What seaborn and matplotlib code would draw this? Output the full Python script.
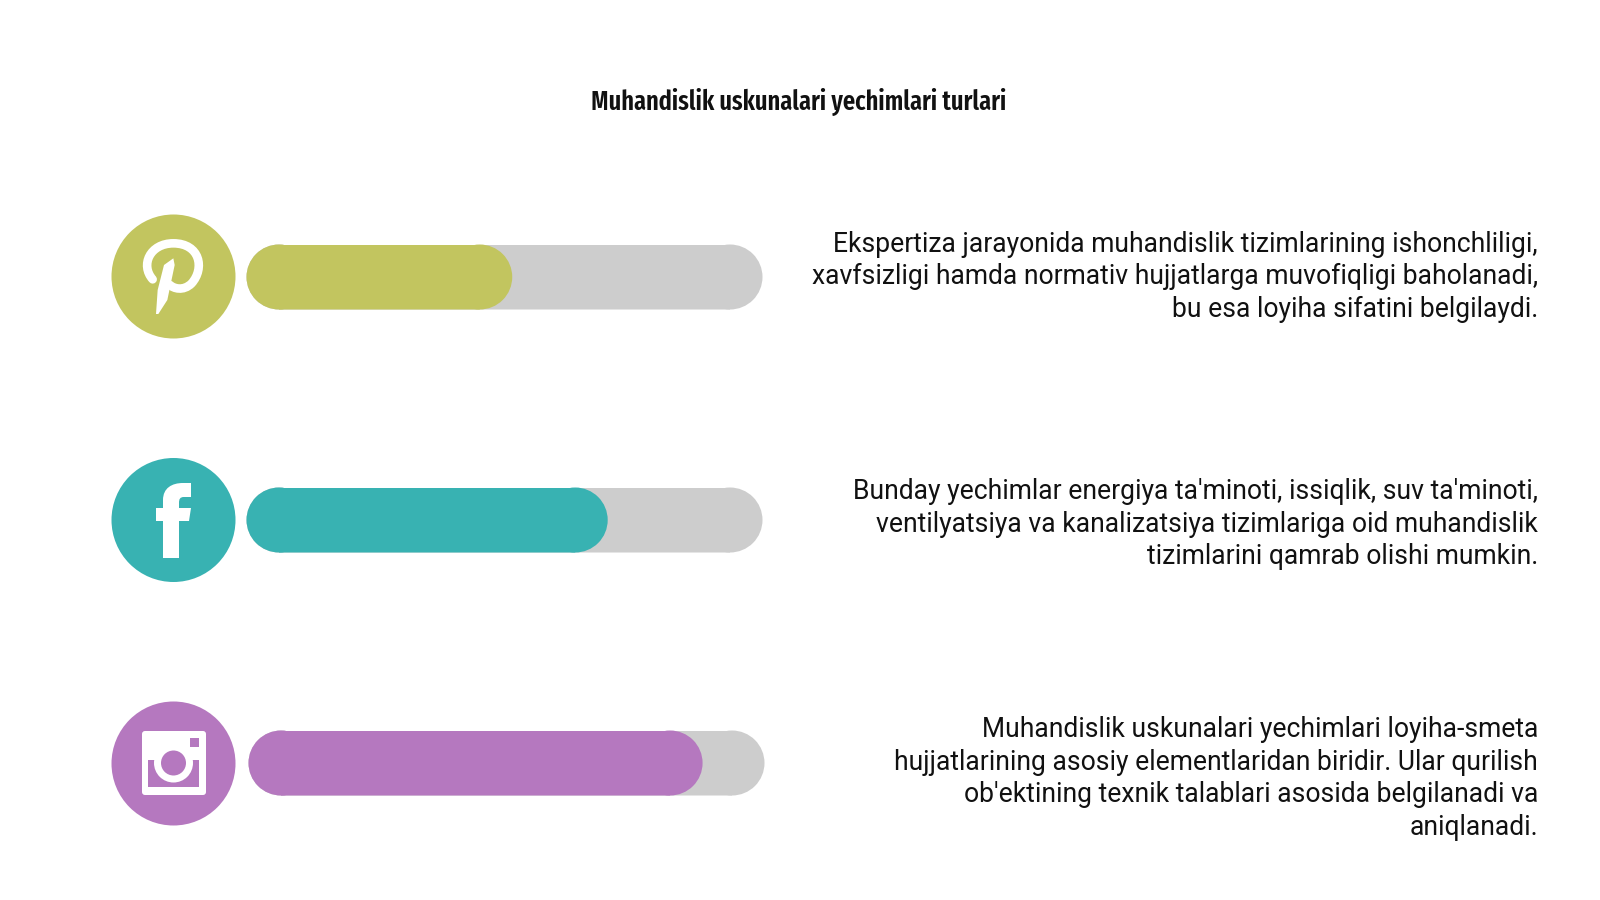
import numpy as np
import pandas as pd
import seaborn as sns
import matplotlib.pyplot as plt
from matplotlib.patches import Circle, FancyBboxPatch, PathPatch, Rectangle
from matplotlib.path import Path
from matplotlib.transforms import IdentityTransform

# DATA
title = 'Muhandislik uskunalari yechimlari turlari'
values = [51.5, 70, 88]
track_max = [100, 100, 100]
colors = ['#c2c55f', '#38b2b2', '#b578bf']
track_color = '#cdcdcd'
descriptions = [
    "Ekspertiza jarayonida muhandislik tizimlarining ishonchliligi,\n"
    "xavfsizligi hamda normativ hujjatlarga muvofiqligi baholanadi,\n"
    "bu esa loyiha sifatini belgilaydi.",
    "Bunday yechimlar energiya ta'minoti, issiqlik, suv ta'minoti,\n"
    "ventilyatsiya va kanalizatsiya tizimlariga oid muhandislik\n"
    "tizimlarini qamrab olishi mumkin.",
    "Muhandislik uskunalari yechimlari loyiha-smeta\n"
    "hujjatlarining asosiy elementlaridan biridir. Ular qurilish\n"
    "ob'ektining texnik talablari asosida belgilanadi va\n"
    "aniqlanadi.",
]

W, H = 1600, 900
sns.set_theme(style='white')
plt.rcParams['font.family'] = ['Roboto', 'DejaVu Sans']

fig = plt.figure(figsize=(16, 9), dpi=100, facecolor='white')

# background axes in pixel coordinates for icons and text
bg = fig.add_axes([0, 0, 1, 1])
bg.set_xlim(0, W)
bg.set_ylim(H, 0)
bg.axis('off')

bar_left = [246.5, 246.5, 248.5]
bar_top = [244.5, 487.5, 730.5]
bar_w, bar_h = 516, 65
circle_y = [276.5, 520, 763.5]
text_y = [277, 524, 778.5]


def round_ends(ax, bar, cap_order):
    # pull the seaborn bar in by one radius and put a round cap on each end
    left, right = bar.get_x(), bar.get_x() + bar.get_width()
    (x0, y0), (x1, y1) = ax.transData.transform([(left, 0.5), (right, -0.5)])
    r = (y1 - y0) / 2
    r_data = r * 100 / bar_w
    # the white theme gives bars a white edge, which would show at the caps
    bar.set_edgecolor('none')
    bar.set_linewidth(0)
    bar.set_snap(False)
    bar.set_x(left + r_data)
    bar.set_width(right - left - 2 * r_data)
    for cx in (x0 + r, x1 - r):
        ax.add_patch(Circle((cx, y0 + r), r, fc=bar.get_facecolor(), ec='none', lw=0, clip_on=False,
                            zorder=cap_order, transform=IdentityTransform()))


for i in range(3):
    ax = fig.add_axes([bar_left[i] / W, 1 - (bar_top[i] + bar_h) / H, bar_w / W, bar_h / H])
    row = pd.DataFrame({'row': [i], 'track': [track_max[i]], 'value': [values[i]]})
    sns.barplot(data=row, x='track', y='row', orient='h', color=track_color,
                saturation=1, width=1, ax=ax)
    sns.barplot(data=row, x='value', y='row', orient='h', color=colors[i],
                saturation=1, width=1, ax=ax)
    ax.set_xlim(0, 100)
    ax.set_ylim(0.5, -0.5)
    ax.axis('off')
    ax.patch.set_alpha(0)
    track_bar, value_bar = list(ax.patches)
    round_ends(ax, track_bar, 0.5)
    round_ends(ax, value_bar, 1.5)

    bg.add_patch(Circle((173.5, circle_y[i]), 62, color=colors[i], lw=0))
    bg.text(1538, text_y[i], descriptions[i], ha='right', va='center', ma='right',
            fontsize=19.1, color='#111111', linespacing=1.26, fontfamily='Roboto')


# Pinterest icon
def z1(pts):
    return [(90 + x / 3, 190 + y / 3) for x, y in pts]


bowl = z1([(188, 268), (150, 225), (180, 160), (250, 160), (330, 160), (345, 235), (305, 280), (280, 305), (250, 295), (240, 285)])
bowl_codes = [Path.MOVETO] + [Path.CURVE4] * 9
bg.add_patch(PathPatch(Path(bowl, bowl_codes), fc='none', ec='white', lw=6.2, capstyle='round'))
stem = z1([(222, 225), (250, 205), (254, 225), (232, 330), (205, 372), (198, 372), (203, 300)])
bg.fill(*zip(*stem), color='white', lw=0)

# Facebook icon
f_pts = [(163, 558), (163, 521), (156, 521), (156, 508), (163, 508), (163, 500), (163, 488), (172, 483), (183, 483),
         (191, 483), (191, 497), (184, 497), (180, 497), (179, 499), (179, 503), (179, 508), (191, 508), (189, 521),
         (179, 521), (179, 558), (163, 558)]
f_codes = [Path.MOVETO, Path.LINETO, Path.LINETO, Path.LINETO, Path.LINETO, Path.LINETO, Path.CURVE4, Path.CURVE4, Path.CURVE4,
           Path.LINETO, Path.LINETO, Path.LINETO, Path.CURVE4, Path.CURVE4, Path.CURVE4, Path.LINETO, Path.LINETO, Path.LINETO,
           Path.LINETO, Path.LINETO, Path.CLOSEPOLY]
bg.add_patch(PathPatch(Path(f_pts, f_codes), fc='white', ec='none'))

# Instagram icon
bg.add_patch(FancyBboxPatch((144, 733), 60, 60, boxstyle='round,pad=2,rounding_size=3', fc='white', ec='none'))
bg.add_patch(Rectangle((148, 760), 51, 27, fc=colors[2], ec='none'))
bg.add_patch(Rectangle((190, 738), 9, 9, fc=colors[2], ec='none'))
bg.add_patch(Circle((173.5, 763), 19.5, fc='white', ec='none'))
bg.add_patch(Circle((173.5, 763), 12.5, fc=colors[2], ec='none'))

bg.text(799, 102, title, ha='center', va='center', fontsize=19.05, fontweight=600,
        fontfamily=['Fira Sans Extra Condensed', 'Fira Sans Condensed', 'Roboto'], color='#111111')

fig.savefig('out.png', dpi=100, facecolor='white')
